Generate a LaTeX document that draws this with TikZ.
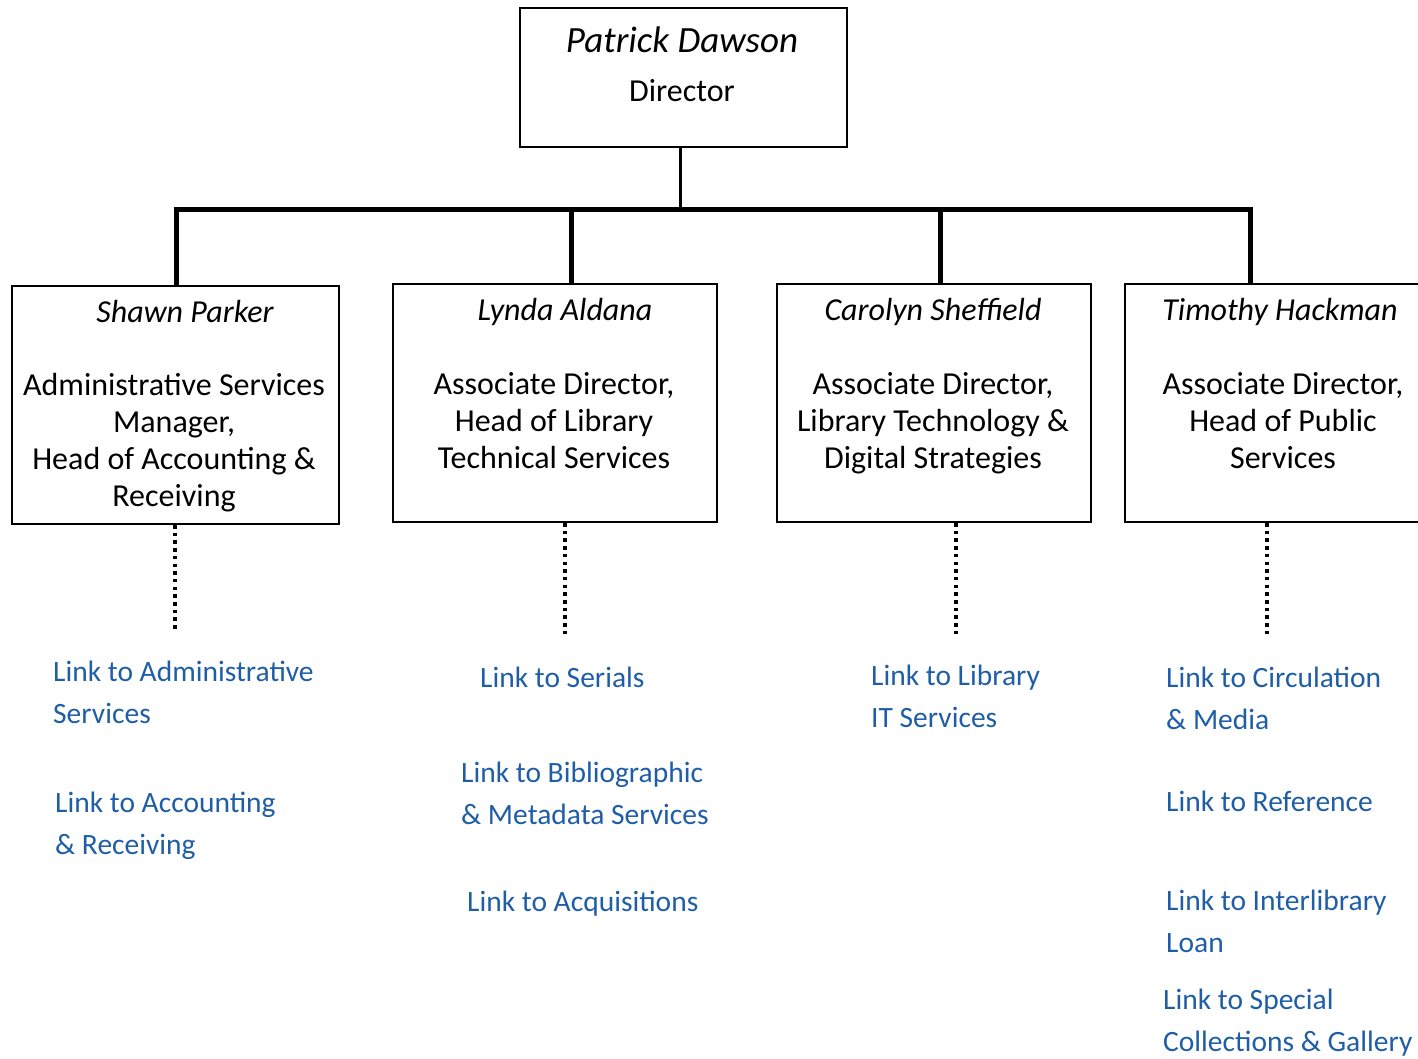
\documentclass[tikz,border=0pt]{standalone}
\usepackage{fontspec}
\setmainfont{Carlito}
\usepackage{xcolor}
\usetikzlibrary{positioning,calc}
\definecolor{linkblue}{RGB}{31,94,166}

\begin{document}
\begin{tikzpicture}[
    x=1pt, y=-1pt,
    box/.style={draw, line width=2pt, anchor=north west, inner sep=0pt},
    who/.style={font=\fontsize{32}{37}\selectfont\itshape, inner sep=0pt},
    role/.style={font=\fontsize{32}{37}\selectfont, align=center, inner sep=0pt},
    link/.style={font=\fontsize{29.5}{42}\selectfont, text=linkblue, align=left, anchor=west, inner sep=0pt},
    bus/.style={line width=5pt},
    dots/.style={line width=3.5pt, dash pattern=on 3.5pt off 4.2pt}
]
\useasboundingbox (0,0) rectangle (1418,1058);

% director
\node[box, minimum width=327pt, minimum height=139pt] (dir) at (519,7) {};
\node[who, font=\fontsize{37}{42}\selectfont\itshape] (dirname) at (682,40) {Patrick Dawson};
\node[role] (dirrole) at (682,91) {Director};

% second level boxes
\node[box, minimum width=327pt, minimum height=238pt] (adm) at (11,285) {};
\node[box, minimum width=324pt, minimum height=238pt] (tech) at (392,283) {};
\node[box, minimum width=314pt, minimum height=238pt] (dig) at (776,283) {};
\node[box, minimum width=310pt, minimum height=238pt] (pub) at (1124,283) {};

\node[who] (admname) at (185,311) {Shawn Parker};
\node[role] (admrole) at (174,443) {Administrative Services\\Manager,\\Head of Accounting \&\\Receiving};
\node[who] (techname) at (565,312) {Lynda Aldana};
\node[role] (techrole) at (554,421) {Associate Director,\\Head of Library\\Technical Services};
\node[who] (digname) at (933,312) {Carolyn Sheffield};
\node[role] (digrole) at (933,423) {Associate Director,\\Library Technology \&\\Digital Strategies};
\node[who] (pubname) at (1280,312) {Timothy Hackman};
\node[role] (pubrole) at (1283,421) {Associate Director,\\Head of Public\\Services};

% connectors
\coordinate (fork) at (680,209);
\coordinate (admtop) at (176,209);
\coordinate (techtop) at (571,209);
\coordinate (digtop) at (940,209);
\coordinate (pubtop) at (1250,209);
\draw[line width=3pt] (dir.south -| fork) -- (fork);
\draw[bus] ([xshift=-2.5pt]admtop) -- ([xshift=2.5pt]pubtop);
\foreach \n in {adm,tech,dig,pub}
    \draw[bus] (\n top) -- (\n top |- \n.north);

% links
\coordinate (admlow) at (175,632);
\coordinate (techlow) at (565,634);
\coordinate (diglow) at (956,634);
\coordinate (publow) at (1267,634);
\draw[dots] (adm.south -| admlow) -- (admlow);
\draw[dots] (tech.south -| techlow) -- (techlow);
\draw[dots] (dig.south -| diglow) -- (diglow);
\draw[dots] (pub.south -| publow) -- (publow);

\node[link] (l1) at (53,692) {Link to Administrative\\Services};
\node[link] (l2) at (55,826) {Link to Accounting\\\& Receiving};
\node[link] (l3) at (480,677) {Link to Serials};
\node[link] (l4) at (461,793) {Link to Bibliographic\\\& Metadata Services};
\node[link] (l5) at (467,904) {Link to Acquisitions};
\node[link] (l6) at (871,696) {Link to Library\\IT Services};
\node[link] (l7) at (1166,698) {Link to Circulation\\\& Media};
\node[link] (l8) at (1166,801) {Link to Reference};
\node[link] (l9) at (1166,921) {Link to Interlibrary\\Loan};
\node[link] (l10) at (1163,1023) {Link to Special\\Collections \& Gallery};
\end{tikzpicture}
\end{document}
